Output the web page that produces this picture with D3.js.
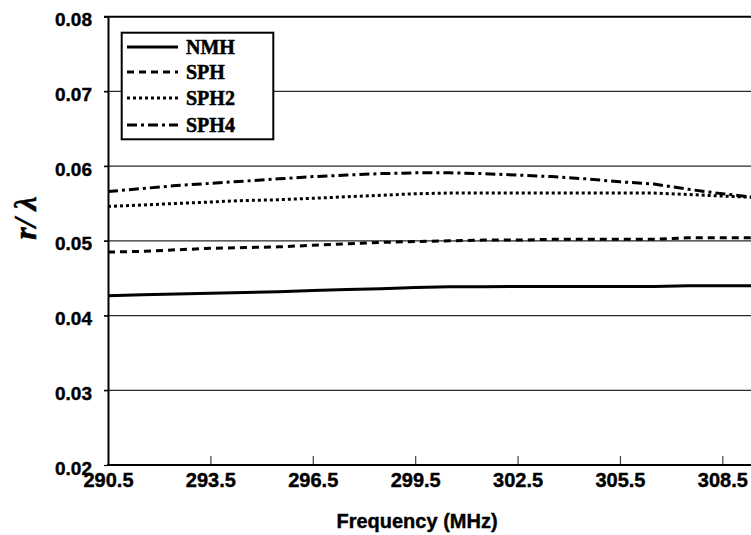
<!DOCTYPE html>
<meta charset="utf-8">
<style>
    body { margin: 0; background: #fff; }
    svg { display: block; }
    .ticklbl { font-family: "Liberation Sans", Arial, sans-serif; font-weight: bold; fill: #000; stroke: #000; stroke-width: 0.4px; }
</style>
<script src="https://d3js.org/d3.v7.min.js"></script>
<div id="chart"></div>
<script>

// data (frequency in MHz, r/lambda)
var freqs = [290.5, 291.5, 292.5, 293.5, 294.5, 295.5, 296.5, 297.5, 298.5, 299.5,
             300.5, 301.5, 302.5, 303.5, 304.5, 305.5, 306.5, 307.5, 308.5, 309.5];
var nmh  = [0.04265, 0.0428, 0.0429, 0.0430, 0.0431, 0.0432, 0.04335, 0.0435, 0.0436, 0.04375,
            0.04385, 0.04387, 0.04388, 0.0439, 0.0439, 0.0439, 0.0439, 0.0440, 0.0440, 0.0440];
var sph  = [0.0485, 0.0486, 0.0488, 0.0490, 0.0491, 0.0492, 0.0494, 0.0496, 0.0498, 0.0499,
            0.0500, 0.0501, 0.0501, 0.0502, 0.0502, 0.0502, 0.0502, 0.0504, 0.0504, 0.0504];
var sph2 = [0.0546, 0.0548, 0.0550, 0.0552, 0.0554, 0.0555, 0.0557, 0.0559, 0.0561, 0.0563,
            0.0564, 0.0564, 0.0564, 0.0564, 0.0564, 0.0564, 0.0564, 0.0562, 0.0560, 0.0558];
var sph4 = [0.0566, 0.0570, 0.0574, 0.0577, 0.0580, 0.0583, 0.0586, 0.0588, 0.0590, 0.0591,
            0.0591, 0.0590, 0.0588, 0.0586, 0.0583, 0.0579, 0.0576, 0.0569, 0.0563, 0.0558];

var seriesNames = ["NMH", "SPH", "SPH2", "SPH4"];
var xTicks = [290.5, 293.5, 296.5, 299.5, 302.5, 305.5, 308.5];
var yTicks = [0.02, 0.03, 0.04, 0.05, 0.06, 0.07, 0.08];

var W = 751, H = 535;
var plotLeft = 108, plotTop = 16.7, plotBottom = 465;
var pxPerMHz = 34.13;

var svg = d3.select("#chart").append("svg")
    .attr("width", W)
    .attr("height", H);

var x = d3.scaleLinear()
    .domain([290.5, 309.5])
    .range([plotLeft, plotLeft + 19 * pxPerMHz]);

var y = d3.scaleLinear()
    .domain([0.02, 0.08])
    .range([plotBottom, plotTop]);

// gridlines
svg.append("g")
    .selectAll("line")
    .data(yTicks.filter(function(d) { return d > 0.021 && d < 0.079; }))
    .enter().append("line")
    .attr("x1", plotLeft - 4)
    .attr("x2", W)
    .attr("y1", function(d) { return y(d); })
    .attr("y2", function(d) { return y(d); })
    .attr("stroke", "#2a2a2a")
    .attr("stroke-width", 1.2);

// top border
svg.append("line")
    .attr("x1", plotLeft - 4).attr("x2", W)
    .attr("y1", y(0.08)).attr("y2", y(0.08))
    .attr("stroke", "#000").attr("stroke-width", 2);

// y axis
var yAxis = svg.append("g")
    .attr("transform", "translate(" + plotLeft + ",0)")
    .call(d3.axisLeft(y).tickValues(yTicks).tickSize(4).tickSizeOuter(0).tickFormat(d3.format(".2f")));
yAxis.select(".domain").attr("stroke", "#000").attr("stroke-width", 2);
yAxis.selectAll(".tick line").attr("stroke", "#000").attr("stroke-width", 1.2);
yAxis.selectAll(".tick text")
    .attr("class", "ticklbl")
    .attr("x", -16)
    .attr("dy", "0.48em")
    .style("font-size", "19px");

// x axis
var xAxis = svg.append("g")
    .attr("transform", "translate(0," + plotBottom + ")")
    .call(d3.axisBottom(x).tickValues(xTicks).tickSize(0).tickFormat(d3.format(".1f")));
xAxis.select(".domain").remove();
xAxis.selectAll(".tick").filter(function(d) { return d > 290.5; })
    .append("line")
    .attr("y1", 0).attr("y2", -9)
    .attr("stroke", "#444").attr("stroke-width", 1.2);
xAxis.selectAll(".tick text")
    .attr("class", "ticklbl")
    .attr("y", 22)
    .attr("dy", 0)
    .style("font-size", "20px");
svg.append("line")
    .attr("x1", plotLeft - 1).attr("x2", W)
    .attr("y1", plotBottom).attr("y2", plotBottom)
    .attr("stroke", "#000").attr("stroke-width", 2);

// series
var series = [
    {name: "NMH",  values: nmh,  dash: null},
    {name: "SPH",  values: sph,  dash: "7,5"},
    {name: "SPH2", values: sph2, dash: "3,3"},
    {name: "SPH4", values: sph4, dash: "10,4,3,4"}
];

var line = d3.line()
    .x(function(d, i) { return x(freqs[i]); })
    .y(function(d) { return y(d); });

svg.append("g")
    .selectAll("path")
    .data(series)
    .enter().append("path")
    .attr("fill", "none")
    .attr("stroke", "#000")
    .attr("stroke-width", 3)
    .attr("stroke-dasharray", function(d) { return d.dash; })
    .attr("d", function(d) { return line(d.values); });

// legend
var legend = svg.append("g");
legend.append("rect")
    .attr("x", 121.7).attr("y", 32.7)
    .attr("width", 151.6).attr("height", 106.6)
    .attr("fill", "#fff")
    .attr("stroke", "#000")
    .attr("stroke-width", 2);

var rowsY = [47, 72, 98, 125];
var items = legend.selectAll("g.item")
    .data(series)
    .enter().append("g")
    .attr("class", "item")
    .attr("transform", function(d, i) { return "translate(0," + rowsY[i] + ")"; });
items.append("line")
    .attr("x1", 127).attr("x2", 178)
    .attr("y1", 0).attr("y2", 0)
    .attr("stroke", "#000")
    .attr("stroke-width", 3)
    .attr("stroke-dasharray", function(d) { return d.dash; });
items.append("text")
    .attr("x", 186)
    .attr("y", 7)
    .style("font-family", "'Liberation Serif', 'Times New Roman', serif")
    .style("font-weight", "bold")
    .style("font-size", "20px")
    .style("stroke", "#000")
    .style("stroke-width", "0.5px")
    .text(function(d) { return d.name; });

// axis titles
svg.append("text")
    .attr("x", 417)
    .attr("y", 528)
    .attr("text-anchor", "middle")
    .style("font-family", "'Liberation Sans', Arial, sans-serif")
    .style("font-weight", "bold")
    .style("font-size", "20px")
    .style("stroke", "#000")
    .style("stroke-width", "0.4px")
    .text("Frequency (MHz)");

svg.append("text")
    .attr("transform", "translate(36,218) rotate(-90)")
    .attr("text-anchor", "middle")
    .style("font-family", "'Liberation Serif', 'Times New Roman', serif")
    .style("font-weight", "bold")
    .style("font-style", "italic")
    .style("font-size", "32px")
    .style("stroke", "#000")
    .style("stroke-width", "0.5px")
    .text("r/ λ");

</script>
